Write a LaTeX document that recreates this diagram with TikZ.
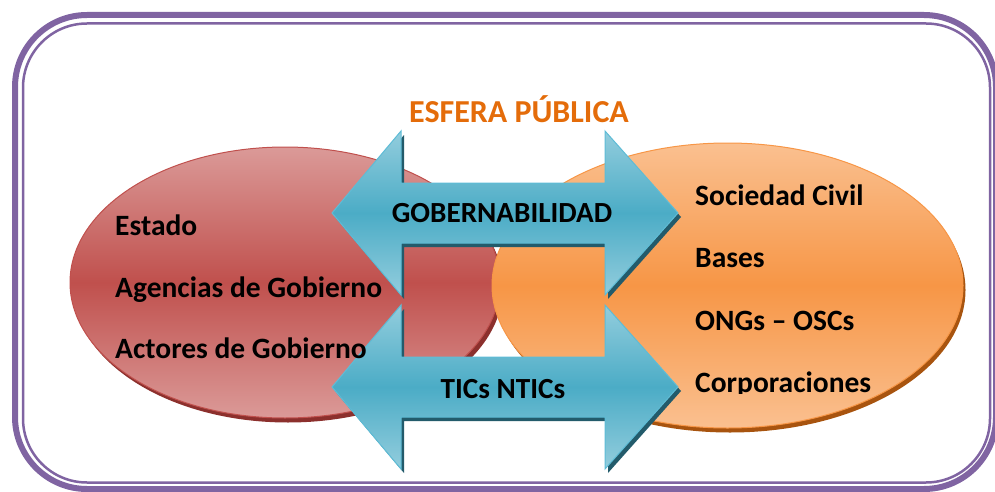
\documentclass[tikz,border=0pt]{standalone}
\usepackage{fontspec}
\setmainfont{Carlito}
\usetikzlibrary{shapes.geometric}
\definecolor{framepurple}{HTML}{8064A2}
\definecolor{titleorange}{HTML}{E46C0A}
\definecolor{redlight}{HTML}{DB9A98}
\definecolor{redmid}{HTML}{C0504D}
\definecolor{reddark}{HTML}{8C302D}
\definecolor{orlight}{HTML}{FAC090}
\definecolor{ormid}{HTML}{F79646}
\definecolor{ordark}{HTML}{A8540F}
\definecolor{tealight}{HTML}{93CDDD}
\definecolor{tealmid}{HTML}{4BACC6}
\definecolor{tealdark}{HTML}{235B6B}
\definecolor{tealedge}{HTML}{5EBCD6}
\newcommand\arrowpoly{(332,0) -- (401,-82) -- (401,-30) -- (605,-30) -- (605,-82) -- (678,0) -- (605,82) -- (605,30) -- (401,30) -- (401,82) -- cycle}
\begin{document}
\begin{tikzpicture}[x=1pt,y=-1pt,
  bodytext/.style={font=\fontsize{29.5}{32}\selectfont\bfseries, anchor=base west, inner sep=0pt, text=black},
  arrowtext/.style={font=\fontsize{29.2}{32}\selectfont\bfseries, anchor=base, inner sep=0pt, text=black},
  titletext/.style={font=\fontsize{32}{35}\selectfont\bfseries, anchor=base, inner sep=0pt, text=titleorange},
  blob/.style={ellipse, inner sep=0pt},
  arrowfill/.style={top color=tealight, bottom color=tealight, middle color=tealmid, draw=tealedge, line width=1},
  arrowshadow/.style={fill=tealdark}
]
\useasboundingbox (0,0) rectangle (995,492);
% frame
\draw[framepurple, line width=6, rounded corners=72] (15,15) rectangle (996,489);
\draw[framepurple, line width=2.5, rounded corners=64] (23,23.5) rectangle (990,482.5);
% title
\node[titletext] (title) at (519,123) {ESFERA PÚBLICA};
% left ellipse
\node[blob, fill=reddark, minimum width=430, minimum height=271] (redshadow) at (288,287) {};
\node[blob, top color=redlight, bottom color=redlight, middle color=redmid, draw=redmid, line width=1, minimum width=430, minimum height=271] (gov) at (285,282.5) {};
% right ellipse
\node[blob, fill=ordark, minimum width=471, minimum height=285] (orshadow) at (730,290) {};
\node[blob, top color=orlight, bottom color=orlight, middle color=ormid, draw=ormid, line width=1, minimum width=471, minimum height=285] (civ) at (727.5,285.5) {};
% arrows
\begin{scope}[shift={(3,4)}]
  \fill[arrowshadow] [shift={(0,213)}] \arrowpoly;
  \fill[arrowshadow] [shift={(0,387)}] \arrowpoly;
\end{scope}
\begin{scope}[shift={(0,213)}]
  \path[arrowfill] \arrowpoly;
\end{scope}
\begin{scope}[shift={(0,387)}]
  \path[arrowfill] \arrowpoly;
\end{scope}
\node[arrowtext] (gob) at (502,222) {GOBERNABILIDAD};
\node[arrowtext] (tic) at (503,398) {TICs NTICs};
% texts
\node[bodytext] (t1) at (115,235) {Estado};
\node[bodytext] (t2) at (115,297) {Agencias de Gobierno};
\node[bodytext] (t3) at (115,358) {Actores de Gobierno};
\node[bodytext] (s1) at (695,205) {Sociedad Civil};
\node[bodytext] (s2) at (695,267) {Bases};
\node[bodytext] (s3) at (695,330) {ONGs – OSCs};
\begin{scope}
  \clip (680,350) rectangle (900,393);
  \node[bodytext] (s4) at (695,392) {Corporaciones};
\end{scope}
\end{tikzpicture}
\end{document}
